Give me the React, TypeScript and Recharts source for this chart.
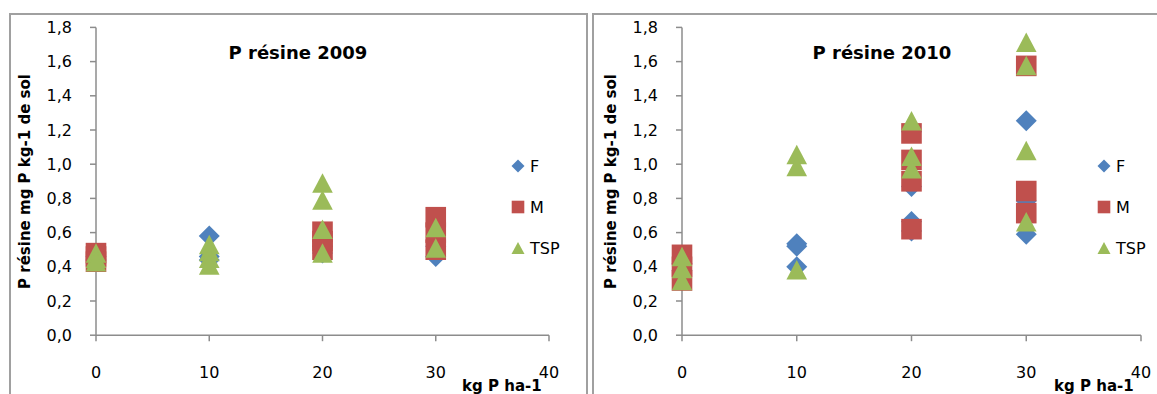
import React from 'react';
import { ScatterChart, Scatter, XAxis, YAxis, Legend } from 'recharts';

// ---- data ----
const doseTicks = [0, 10, 20, 30, 40];
const yTicks = [0, 0.2, 0.4, 0.6, 0.8, 1.0, 1.2, 1.4, 1.6, 1.8];
const seriesNames = ['F', 'M', 'TSP'];
const seriesColors = ['#4F81BD', '#C0504D', '#9BBB59'];
const titles = ['P résine 2009', 'P résine 2010'];
const yLabel = 'P résine mg P kg-1 de sol';
const xLabel = 'kg P ha-1';

const f2009 = [
  { x: 0, y: 0.44 }, { x: 0, y: 0.46 },
  { x: 10, y: 0.58 }, { x: 10, y: 0.46 }, { x: 10, y: 0.44 },
  { x: 20, y: 0.48 }, { x: 20, y: 0.52 },
  { x: 30, y: 0.46 }, { x: 30, y: 0.52 },
];
const m2009 = [
  { x: 0, y: 0.48 }, { x: 0, y: 0.46 }, { x: 0, y: 0.43 },
  { x: 20, y: 0.605 }, { x: 20, y: 0.55 }, { x: 20, y: 0.5 },
  { x: 30, y: 0.69 }, { x: 30, y: 0.6 }, { x: 30, y: 0.5 },
];
const tsp2009 = [
  { x: 0, y: 0.48 }, { x: 0, y: 0.45 }, { x: 0, y: 0.43 },
  { x: 10, y: 0.53 }, { x: 10, y: 0.49 }, { x: 10, y: 0.45 }, { x: 10, y: 0.41 },
  { x: 20, y: 0.89 }, { x: 20, y: 0.79 }, { x: 20, y: 0.62 }, { x: 20, y: 0.48 },
  { x: 30, y: 0.63 }, { x: 30, y: 0.51 },
];

const f2010 = [
  { x: 0, y: 0.38 }, { x: 0, y: 0.42 },
  { x: 10, y: 0.535 }, { x: 10, y: 0.52 }, { x: 10, y: 0.4 },
  { x: 20, y: 1.19 }, { x: 20, y: 0.87 }, { x: 20, y: 0.665 }, { x: 20, y: 0.61 },
  { x: 30, y: 1.254 }, { x: 30, y: 0.785 }, { x: 30, y: 0.59 },
];
const m2010 = [
  { x: 0, y: 0.47 }, { x: 0, y: 0.4 }, { x: 0, y: 0.32 },
  { x: 20, y: 1.18 }, { x: 20, y: 1.025 }, { x: 20, y: 0.9 }, { x: 20, y: 0.62 },
  { x: 30, y: 1.575 }, { x: 30, y: 0.843 }, { x: 30, y: 0.714 },
];
const tsp2010 = [
  { x: 0, y: 0.46 }, { x: 0, y: 0.39 }, { x: 0, y: 0.32 },
  { x: 10, y: 1.057 }, { x: 10, y: 0.987 }, { x: 10, y: 0.383 },
  { x: 20, y: 1.254 }, { x: 20, y: 1.046 }, { x: 20, y: 0.974 },
  { x: 30, y: 1.713 }, { x: 30, y: 1.577 }, { x: 30, y: 1.08 }, { x: 30, y: 0.664 },
];

// ---- markers ----
const FONT = "'DejaVu Sans', sans-serif";
const AXIS = '#8c8c8c';

function diamondPath(cx: number, cy: number, r: number) {
  return `M${cx},${cy - r}L${cx + r},${cy}L${cx},${cy + r}L${cx - r},${cy}Z`;
}
function trianglePath(cx: number, cy: number, w: number, h: number) {
  return `M${cx},${cy - h / 2}L${cx + w / 2},${cy + h / 2}L${cx - w / 2},${cy + h / 2}Z`;
}

const DiamondShape = (p: any) => <path d={diamondPath(p.cx, p.cy, 10.5)} fill={seriesColors[0]} />;
const SquareShape = (p: any) => (
  <rect x={p.cx - 10.3} y={p.cy - 10.3} width={20.6} height={20.6} fill={seriesColors[1]} />
);
const TriangleShape = (p: any) => <path d={trianglePath(p.cx, p.cy, 20.6, 19.5)} fill={seriesColors[2]} />;

const legendRows = [16, 57, 98];
const renderLegend = () => (
  <svg width={70} height={110} style={{ overflow: 'visible', display: 'block' }}>
    <path d={diamondPath(10, legendRows[0], 6.5)} fill={seriesColors[0]} />
    <rect x={3.7} y={legendRows[1] - 6.3} width={12.6} height={12.6} fill={seriesColors[1]} />
    <path d={trianglePath(10, legendRows[2], 13, 12)} fill={seriesColors[2]} />
    {seriesNames.map((n, i) => (
      <text key={n} x={22} y={legendRows[i] + 6} fontFamily={FONT} fontSize={16} fill="#000">
        {n}
      </text>
    ))}
  </svg>
);

const fmt = (v: number) => v.toFixed(1).replace('.', ',');

type PanelProps = {
  left: number;
  width: number;
  yAxisWidth: number;
  marginRight: number;
  title: string;
  titleX: number;
  yLabelX: number;
  xLabelX: number;
  legendLeft: number;
  f: { x: number; y: number }[];
  m: { x: number; y: number }[];
  t: { x: number; y: number }[];
};

function Panel(pr: PanelProps) {
  return (
    <div style={{ position: 'absolute', left: pr.left, top: 0 }}>
      <ScatterChart
        width={pr.width}
        height={394}
        margin={{ top: 27.4, right: pr.marginRight, bottom: 18.8, left: 0 }}
      >
        <XAxis
          type="number"
          dataKey="x"
          domain={[0, 40]}
          ticks={doseTicks}
          interval={0}
          height={40}
          tickSize={6}
          tickMargin={25}
          axisLine={{ stroke: AXIS, strokeWidth: 1.5 }}
          tickLine={{ stroke: AXIS, strokeWidth: 1.5 }}
          tick={{ fontFamily: FONT, fontSize: 16, fill: '#000' }}
        />
        <YAxis
          type="number"
          dataKey="y"
          domain={[0, 1.8]}
          ticks={yTicks}
          interval={0}
          width={pr.yAxisWidth}
          tickSize={6}
          tickMargin={18}
          tickFormatter={fmt}
          axisLine={{ stroke: AXIS, strokeWidth: 1.5 }}
          tickLine={{ stroke: AXIS, strokeWidth: 1.5 }}
          tick={{ fontFamily: FONT, fontSize: 16, fill: '#000' }}
        />
        <Legend
          content={renderLegend}
          layout="horizontal"
          verticalAlign="middle"
          align="center"
          wrapperStyle={{ left: pr.legendLeft, top: 150, width: 70, height: 110 }}
        />
        <Scatter name={seriesNames[0]} data={pr.f} fill={seriesColors[0]} shape={DiamondShape} isAnimationActive={false} />
        <Scatter name={seriesNames[1]} data={pr.m} fill={seriesColors[1]} shape={SquareShape} isAnimationActive={false} />
        <Scatter name={seriesNames[2]} data={pr.t} fill={seriesColors[2]} shape={TriangleShape} isAnimationActive={false} />
        <text x={pr.titleX} y={59} textAnchor="middle" fontFamily={FONT} fontWeight="bold" fontSize={18} fill="#000">
          {pr.title}
        </text>
        <text
          x={pr.yLabelX}
          y={181.5}
          transform={`rotate(-90 ${pr.yLabelX} 181.5)`}
          textAnchor="middle"
          fontFamily={FONT}
          fontWeight="bold"
          fontSize={15}
          fill="#000"
        >
          {yLabel}
        </text>
        <text x={pr.xLabelX} y={391} textAnchor="end" fontFamily={FONT} fontWeight="bold" fontSize={15} fill="#000">
          {xLabel}
        </text>
      </ScatterChart>
    </div>
  );
}

export default function App() {
  return (
    <div style={{ position: 'absolute', left: 0, top: 0, width: 1157, height: 394, overflow: 'hidden', background: '#fff' }}>
      <div
        style={{
          position: 'absolute', left: 8.5, top: 13.3, width: 579.5, height: 420,
          border: '2px solid #a0a0a0', boxSizing: 'border-box',
        }}
      />
      <div
        style={{
          position: 'absolute', left: 592, top: 13.3, width: 600, height: 420,
          border: '2px solid #a0a0a0', boxSizing: 'border-box',
        }}
      />
      <Panel
        left={0}
        width={590}
        yAxisWidth={96}
        marginRight={41}
        title={titles[0]}
        titleX={298}
        yLabelX={29.5}
        xLabelX={541.7}
        legendLeft={508}
        f={f2009}
        m={m2009}
        t={tsp2009}
      />
      <Panel
        left={590}
        width={567}
        yAxisWidth={92}
        marginRight={16}
        title={titles[1]}
        titleX={292}
        yLabelX={25.5}
        xLabelX={543.7}
        legendLeft={504}
        f={f2010}
        m={m2010}
        t={tsp2010}
      />
    </div>
  );
}
